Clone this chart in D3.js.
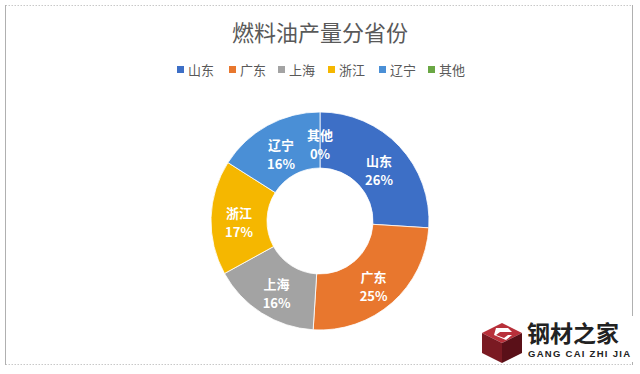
<!DOCTYPE html>
<html><head><meta charset="utf-8">
<script src="https://cdn.jsdelivr.net/npm/d3@7"></script>
<style>body{margin:0;background:#fff;}svg{display:block;font-family:"Noto Sans CJK SC","Noto Sans",sans-serif;}</style>
</head><body>
<svg id="c" width="640" height="374"></svg>
<script>
const categories = ["山东","广东","上海","浙江","辽宁","其他"];
const values = [26, 25, 16, 17, 16, 0];
const colors = ["#3d6fc6","#e8772e","#a3a3a3","#f5b700","#4a8fd6","#6aa744"];
const title = "燃料油产量分省份";

const svg = d3.select("#c");
// frame
svg.append("line").attr("x1",5.5).attr("x2",632.5).attr("y1",5.5).attr("y2",5.5).attr("stroke","#c8c8c8").attr("stroke-dasharray","1.5,1.5");
svg.append("line").attr("x1",5.5).attr("x2",632.5).attr("y1",364.5).attr("y2",364.5).attr("stroke","#c8c8c8").attr("stroke-dasharray","1.5,1.5");
svg.append("line").attr("x1",5.5).attr("x2",5.5).attr("y1",5).attr("y2",365).attr("stroke","#b0b0b0");
svg.append("line").attr("x1",632.5).attr("x2",632.5).attr("y1",5).attr("y2",365).attr("stroke","#b0b0b0");

svg.append("text").attr("x",320).attr("y",41).attr("text-anchor","middle")
  .attr("font-size",22).attr("fill","#595959").text(title);

// legend
const lx = [177, 229, 278, 328, 379, 428];
const lg = svg.append("g");
categories.forEach((c,i)=>{
  lg.append("rect").attr("x",lx[i]).attr("y",66).attr("width",7).attr("height",7).attr("fill",colors[i]);
  lg.append("text").attr("x",lx[i]+11).attr("y",75).attr("font-size",13).attr("fill","#595959").text(c);
});

const cx = 320, cy = 221, rOut = 109, rIn = 53;
const pie = d3.pie().value(d=>d).sort(null);
const arcs = pie(values);
const arc = d3.arc().innerRadius(rIn).outerRadius(rOut);
const labelArc = d3.arc().innerRadius((rIn+rOut)/2).outerRadius((rIn+rOut)/2);
const g = svg.append("g").attr("transform",`translate(${cx},${cy})`);
g.selectAll("path").data(arcs.filter(d=>d.value>0)).join("path").attr("d",arc)
  .attr("fill",d=>colors[d.index]).attr("stroke","#fff").attr("stroke-width",0.8);

const total = d3.sum(values);
const lab = g.selectAll("g.l").data(arcs).join("g").attr("class","l")
  .attr("transform",d=>{const c=labelArc.centroid(d); return `translate(${c[0]},${c[1]+5})`;});
lab.append("text").attr("text-anchor","middle").attr("y",-5).attr("font-size",13).attr("font-weight","bold").attr("fill","#fff")
  .text((d,i)=>categories[i]);
lab.append("text").attr("text-anchor","middle").attr("y",14).attr("font-size",13).attr("font-weight","bold").attr("fill","#fff")
  .text(d=>Math.round(d.value/total*100)+"%");

// watermark
const w = svg.append("g");
w.append("rect").attr("x",476).attr("y",316).attr("width",164).attr("height",46).attr("fill","#fff");
const cube = w.append("g").attr("transform","translate(502,343)");
cube.append("path").attr("d","M-20,-10 L0,-20 L20,-10 L0,0 Z").attr("fill","#b8303a");
cube.append("path").attr("d","M-20,-10 L0,0 L0,20 L-20,10 Z").attr("fill","#7a1a22");
cube.append("path").attr("d","M20,-10 L0,0 L0,20 L20,10 Z").attr("fill","#5a1018");
cube.append("path").attr("d","M-6,-15 L6,-15 L10,-11 L-2,-11 L-6,-8 L2,-5 L6,-8 L10,-8 L4,-3 L-8,-8 Z").attr("fill","#fff");
w.append("text").attr("x",527).attr("y",342).attr("font-size",23).attr("font-weight","bold").attr("fill","#222").text("钢材之家");
w.append("text").attr("x",528).attr("y",357).attr("font-size",9.5).attr("font-weight","bold").attr("fill","#222")
  .attr("font-family","Liberation Sans, Arial, sans-serif").attr("textLength",102).text("GANG CAI ZHI JIA");
</script>
</body></html>
